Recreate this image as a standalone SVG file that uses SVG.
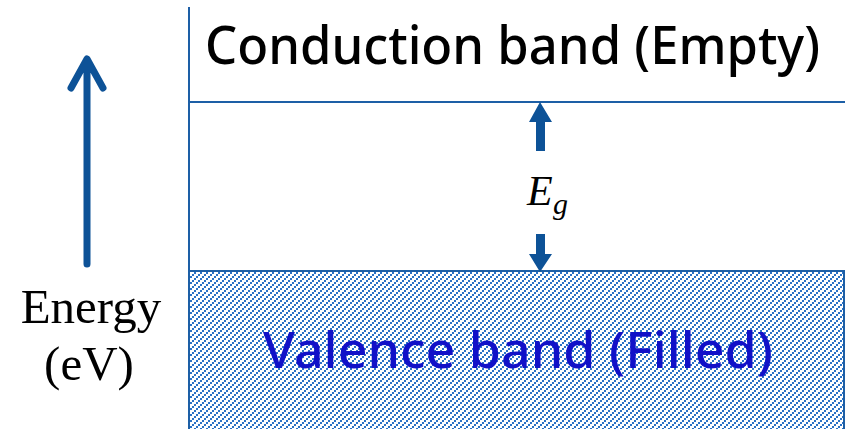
<svg xmlns="http://www.w3.org/2000/svg" width="846" height="429" viewBox="0 0 846 429">
<defs>
<pattern id="hatch" patternUnits="userSpaceOnUse" x="0" y="0" width="6" height="6">
<g fill="#2a72c6" shape-rendering="crispEdges">
<rect x="0" y="4" width="2" height="2"/>
<rect x="2" y="2" width="2" height="2"/>
<rect x="4" y="0" width="2" height="2"/>
</g>
</pattern>
<style>
.ln{stroke:#1d5fa6;stroke-width:2;fill:none}
.arr{fill:#0d5297}
.comic{font-family:"Noto Sans","Open Sans",sans-serif;font-weight:500}
.serif{font-family:"Liberation Serif","Times New Roman",serif}
</style>
</defs>
<rect width="846" height="429" fill="#fff"/>
<g id="valence-band">
<rect x="189" y="271" width="655" height="160" fill="url(#hatch)" stroke="#1d5fa6" stroke-width="2"/>
<text class="comic" x="263" y="368" font-size="50" fill="#1111c8" textLength="510" lengthAdjust="spacingAndGlyphs">Valence band (Filled)</text>
</g>
<g id="conduction-band">
<line class="ln" x1="189" y1="102" x2="845" y2="102"/>
<text class="comic" x="205" y="64" font-size="52" fill="#000" textLength="615" lengthAdjust="spacingAndGlyphs">Conduction band (Empty)</text>
</g>
<g id="axis">
<line class="ln" x1="189" y1="7" x2="189" y2="429"/>
</g>
<g id="energy">
<path d="M87,264 L87,60 M71,88 L87,59 L103,88" stroke="#0d5297" stroke-width="7" fill="none" stroke-linecap="round" stroke-linejoin="round"/>
<text class="serif" x="91" y="323" font-size="49" text-anchor="middle" fill="#000">Energy</text>
<text class="serif" x="89" y="380" font-size="49" text-anchor="middle" fill="#000">(eV)</text>
</g>
<g id="connectors">
<path class="arr" d="M540,102 L552,122 L545,122 L545,151 L536,151 L536,122 L529,122 Z"/>
<path class="arr" d="M540,272 L552,254 L545,254 L545,234 L536,234 L536,254 L529,254 Z"/>
</g>
<g id="eg-label">
<text class="serif" x="527" y="205" font-size="42" font-style="italic" fill="#000">E</text>
<text class="serif" x="553" y="214" font-size="30" font-style="italic" fill="#000">g</text>
</g>
</svg>
